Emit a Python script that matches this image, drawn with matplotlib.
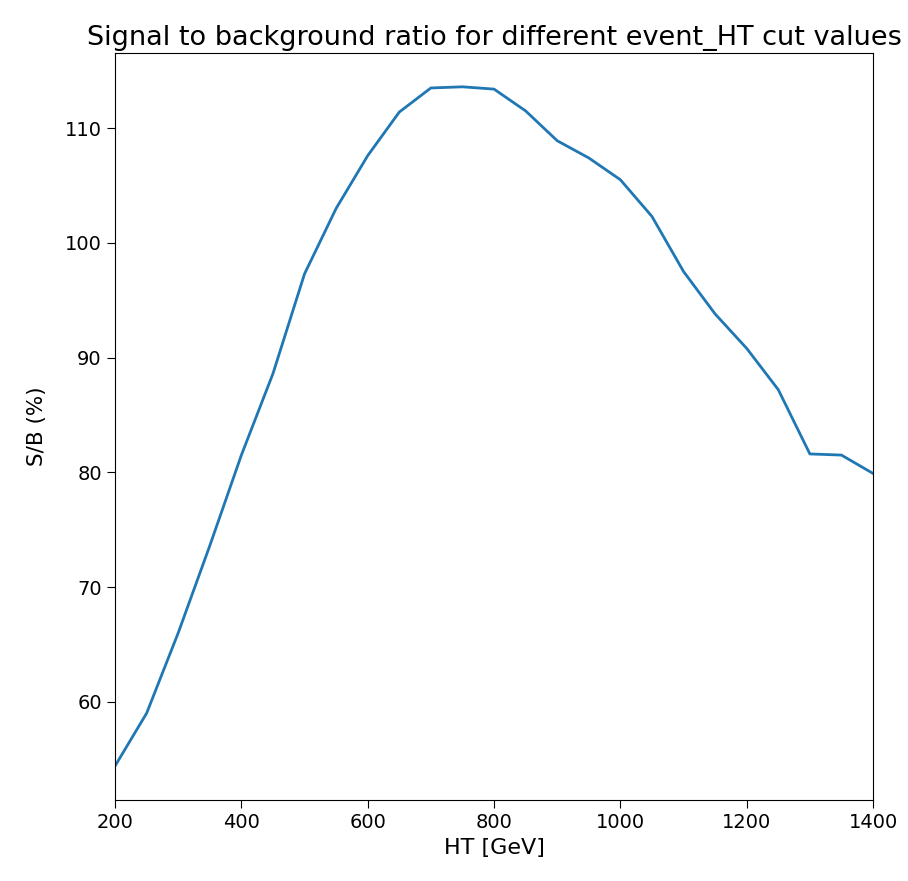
import matplotlib
matplotlib.use('Agg')
import matplotlib.pyplot as plt

# HT cut values and the resulting S/B ratio
ht_cut = [200, 250, 300, 350, 400, 450, 500, 550, 600, 650, 700, 750, 800,
          850, 900, 950, 1000, 1050, 1100, 1150, 1200, 1250, 1300, 1350, 1400]
sb_ratio = [54.4, 59.0, 66.0, 73.6, 81.5, 88.6, 97.3, 103.0, 107.6, 111.4,
            113.5, 113.6, 113.4, 111.5, 108.9, 107.4, 105.5, 102.3, 97.5,
            93.8, 90.8, 87.2, 81.6, 81.5, 79.9]

fig = plt.figure(figsize=(9.08, 8.81), dpi=100)
ax = fig.add_axes([0.1267, 0.092, 0.8348, 0.848])

ax.plot(ht_cut, sb_ratio, color='#1f77b4', linewidth=2)
ax.set_xlim(200, 1400)

ax.set_title('Signal to background ratio for different event_HT cut values', fontsize=19.5)
ax.set_xlabel('HT [GeV]', fontsize=16)
ax.set_ylabel('S/B (%)', fontsize=15.5, labelpad=13)
ax.tick_params(labelsize=14, length=6)

fig.savefig('out.png', dpi=100)
